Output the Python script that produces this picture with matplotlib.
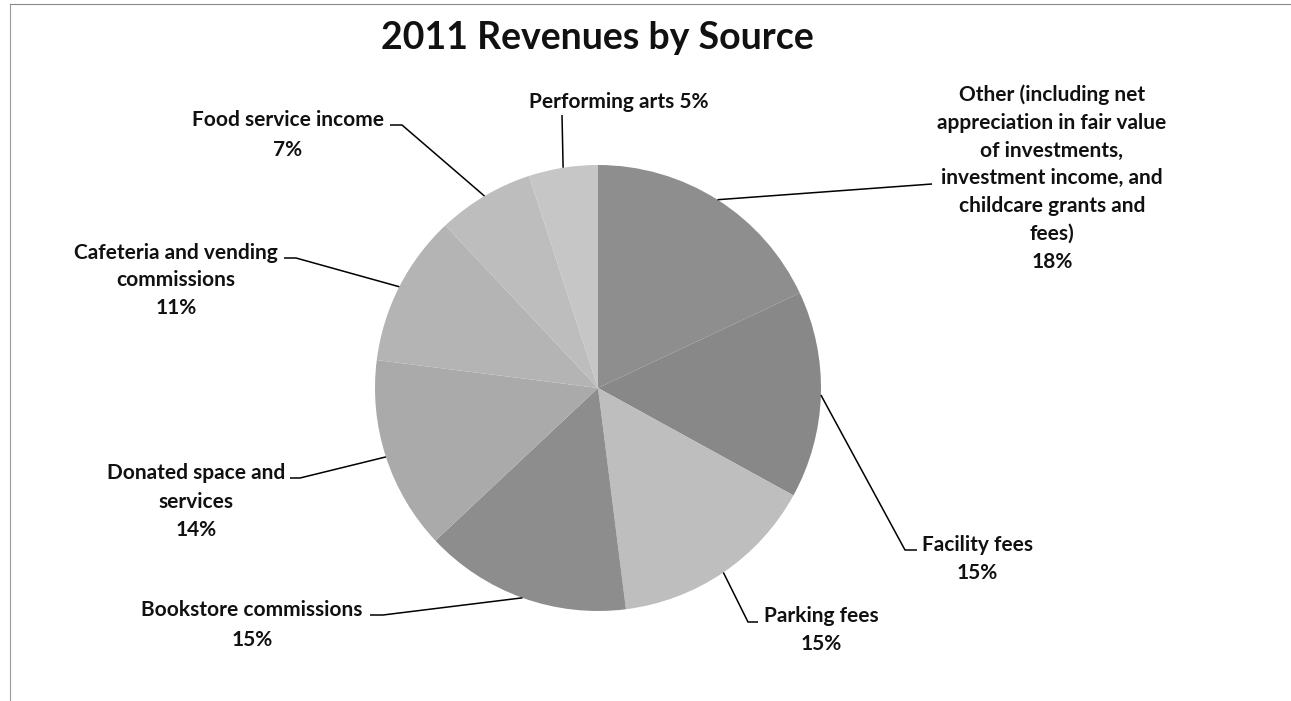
"""
2011 revenues by source, pie chart with leader-line labels
"""

import numpy as np
import matplotlib.pyplot as plt

W, H = 1291, 701

# revenue shares, clockwise from 12 o'clock
sources = [
    ["Other (including net", "appreciation in fair value", "of investments,",
     "investment income, and", "childcare grants and", "fees)"],
    ["Facility fees"],
    ["Parking fees"],
    ["Bookstore commissions"],
    ["Donated space and", "services"],
    ["Cafeteria and vending", "commissions"],
    ["Food service income"],
    ["Performing arts"],
]
shares = [18, 15, 15, 15, 14, 11, 7, 5]
greys = ["#8e8e8e", "#888888", "#bebebe", "#8d8d8d",
         "#aaaaaa", "#b4b4b4", "#bdbdbd", "#c6c6c6"]

# CONFIG (pixel layout, y measured from the top)
CENTER = (598, 388)
RADIUS = 223
FONT = "Lato"
LABEL_SIZE = 15
TITLE_SIZE = 27

# label centre x, first line y, line step, leader points from text side
LABELS = [
    (1052, 95, 27.8, [(932, 184)]),
    (977, 545, 28.0, [(917, 550), (905, 550)]),
    (821, 616, 28.5, [(758, 622), (748, 622)]),
    (252, 610, 29.5, [(370, 615), (383, 615)]),
    (196, 473, 28.5, [(290, 478), (300, 478)]),
    ([176, 176, 176], 253, 27.5, [(284, 258), (296, 258)]),
    (288, 120, 30.0, [(390, 125), (402, 125)]),
    (619, 102, 0.0, [(562, 115)]),
]


def py(y):
    """pixel row -> data y"""
    return H - y


fig = plt.figure(figsize=(W / 100, H / 100), dpi=100)
ax = fig.add_axes([0, 0, 1, 1])

wedges, _ = ax.pie(shares, colors=greys, startangle=90, counterclock=False,
                   center=(CENTER[0], py(CENTER[1])), radius=RADIUS,
                   wedgeprops=dict(linewidth=0))

# pie() resets the limits, so the pixel frame goes after it
ax.set_xlim(0, W)
ax.set_ylim(0, H)
ax.set_aspect("equal")
ax.axis("off")

for w, lines, share, (cx, y0, step, leader) in zip(wedges, sources, shares, LABELS):
    # leader line ends on the wedge edge at its mid angle
    ang = np.radians((w.theta1 + w.theta2) / 2)
    ex = CENTER[0] + RADIUS * np.cos(ang)
    ey = py(CENTER[1]) + RADIUS * np.sin(ang)
    xs = [p[0] for p in leader] + [ex]
    ys = [py(p[1]) for p in leader] + [ey]
    ax.plot(xs, ys, color="black", linewidth=1.1, solid_capstyle="butt")

    if step == 0:
        text_lines = [lines[0] + f" {share}%"]
    else:
        text_lines = lines + [f"{share}%"]
    for i, t in enumerate(text_lines):
        ax.text(cx if np.isscalar(cx) else cx[i], py(y0 + i * step), t,
                ha="center", va="center", fontsize=LABEL_SIZE,
                fontweight="bold", family=FONT, color="#111111")

ax.text(597, py(38), "2011 Revenues by Source", ha="center", va="center",
        fontsize=TITLE_SIZE, fontweight="bold", family=FONT, color="#111111")

# scanned page edges
ax.plot([10, 10], [py(4), py(701)], color="#9a9a9a", linewidth=0.8)
ax.plot([10, W], [py(4), py(4)], color="#8a8a8a", linewidth=0.8)

fig.savefig("out.png", dpi=100)
